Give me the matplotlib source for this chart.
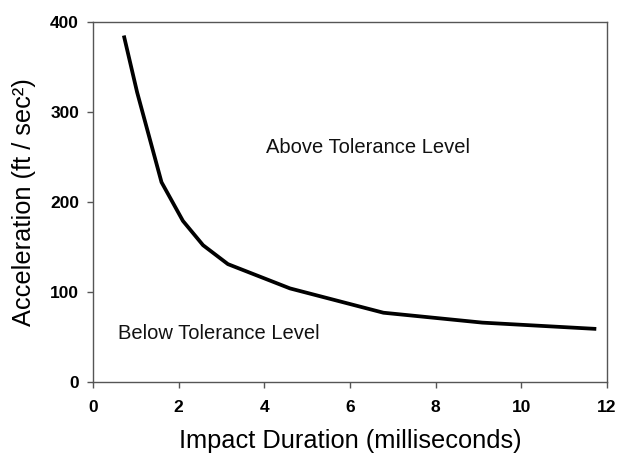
import matplotlib
matplotlib.use("Agg")
import matplotlib.pyplot as plt

plt.rcParams['font.family'] = ['Liberation Sans', 'DejaVu Sans']

duration_ms = [0.72, 1.03, 1.6, 2.1, 2.57, 3.15, 4.6, 6.78, 9.09, 11.75]
accel = [385, 322, 222, 179, 152, 131, 104, 77, 66, 59]

fig = plt.figure(figsize=(6.17, 4.55), dpi=100)
ax = fig.add_axes([0.1507, 0.1604, 0.8331, 0.7912])

ax.plot(duration_ms, accel, color='black', linewidth=2.7, solid_capstyle='butt')

ax.text(4.04, 261, "Above Tolerance Level", fontsize=14.5, va='center', ha='left', color='#111111')
ax.text(0.58, 54, "Below Tolerance Level", fontsize=14.5, va='center', ha='left', color='#111111')

ax.set_xlim(0, 12)
ax.set_ylim(0, 400)
ax.set_xticks(range(0, 13, 2))
ax.set_yticks(range(0, 401, 100))
for s in ax.spines.values():
    s.set_color('#555555')
    s.set_linewidth(1.0)
ax.tick_params(direction='out', length=4, width=1, color='#555555', labelsize=12.5)
ax.tick_params(axis='x', pad=9)
ax.tick_params(axis='y', pad=6)
for lab in ax.get_xticklabels() + ax.get_yticklabels():
    lab.set_fontweight('bold')

ax.set_xlabel("Impact Duration (milliseconds)", fontsize=18.3, labelpad=10)
ax.set_ylabel("Acceleration (ft / sec²)", fontsize=18.3, labelpad=10)

fig.savefig("out.png", dpi=100)
